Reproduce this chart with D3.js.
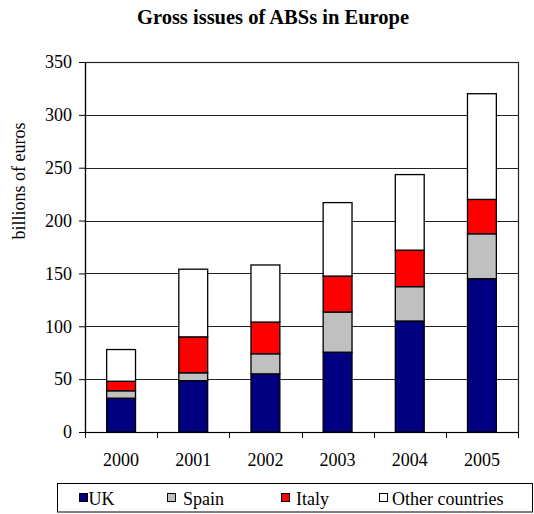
<!DOCTYPE html>
<html>
<head>
<meta charset="utf-8">
<script src="https://cdn.jsdelivr.net/npm/d3@7"></script>
<style>
  html, body { margin: 0; padding: 0; background: #fff; }
  svg { display: block; }
  svg text { font-family: "Liberation Serif", "Times New Roman", "DejaVu Serif", serif; fill: #000; }
</style>
</head>
<body>
<svg id="chart" width="534" height="514"></svg>
<script>
// Gross issues of asset-backed securities in Europe, billions of euros
const years = ["2000", "2001", "2002", "2003", "2004", "2005"];
const seriesNames = ["UK", "Spain", "Italy", "Other countries"];
const uk     = [32, 48.5, 55, 75.5, 105, 145];
const spain  = [7, 7.5, 19, 38, 32.5, 42.5];
const italy  = [9, 34, 30, 34, 34.5, 32.5];
const others = [30, 64, 54, 69.5, 71.5, 100];
const yTicks = [0, 50, 100, 150, 200, 250, 300, 350];
const colors = ["#000080", "#c0c0c0", "#ff0000", "#ffffff"];

const rows = years.map((y, i) => ({
  year: y, "UK": uk[i], "Spain": spain[i], "Italy": italy[i], "Other countries": others[i]
}));
const stacked = d3.stack().keys(seriesNames)(rows);

const svg = d3.select("#chart");
const m = { left: 85, right: 16, top: 62, bottom: 82 };
const W = 534, H = 514;
const pw = W - m.left - m.right, ph = H - m.top - m.bottom;

const x = d3.scaleBand().domain(years).range([0, pw]).paddingInner(0.6).paddingOuter(0.3);
const xb = d3.scaleBand().domain(years).range([0, pw]);
const y = d3.scaleLinear().domain([0, 350]).range([ph, 0]);

svg.append("text")
  .attr("x", 273).attr("y", 24)
  .attr("text-anchor", "middle")
  .attr("font-weight", "bold").attr("font-size", 20.5)
  .text("Gross issues of ABSs in Europe");

const g = svg.append("g").attr("transform", `translate(${m.left},${m.top})`);

// horizontal gridlines
g.append("g").selectAll("line").data(yTicks.filter(t => t > 0 && t < 350)).join("line")
  .attr("x1", 0).attr("x2", pw)
  .attr("y1", d => Math.round(y(d)) + 0.5).attr("y2", d => Math.round(y(d)) + 0.5)
  .attr("stroke", "#222").attr("stroke-width", 1);

// plot frame
g.append("rect")
  .attr("x", 0.5).attr("y", 0.5).attr("width", pw).attr("height", ph)
  .attr("fill", "none").attr("stroke", "#222").attr("stroke-width", 1.2);

// stacked bars
g.append("g").selectAll("g").data(stacked).join("g")
  .attr("fill", (d, i) => colors[i])
  .selectAll("rect").data(d => d).join("rect")
  .attr("x", d => x(d.data.year))
  .attr("width", x.bandwidth())
  .attr("y", d => y(d[1]))
  .attr("height", d => y(d[0]) - y(d[1]))
  .attr("stroke", "#000").attr("stroke-width", 1.3);

// y axis
const yAxis = g.append("g")
  .call(d3.axisLeft(y).tickValues(yTicks).tickSize(6).tickPadding(7));
yAxis.attr("font-family", null).attr("font-size", null);
yAxis.select(".domain").attr("stroke", "#000").attr("stroke-width", 1.2);
yAxis.selectAll(".tick line").attr("stroke", "#000");
yAxis.selectAll(".tick text").attr("font-size", 18).attr("fill", "#000");

// x axis: ticks at category boundaries, labels centred under bars
const xAxisG = g.append("g").attr("transform", `translate(0,${ph})`);
xAxisG.append("line").attr("x1", 0).attr("x2", pw).attr("y1", 0.5).attr("y2", 0.5)
  .attr("stroke", "#000").attr("stroke-width", 1.2);
xAxisG.selectAll("line.tk").data(years).join("line")
  .attr("class", "tk")
  .attr("x1", d => Math.round(xb(d) + xb.bandwidth()) + 0.5)
  .attr("x2", d => Math.round(xb(d) + xb.bandwidth()) + 0.5)
  .attr("y1", 0).attr("y2", 6)
  .attr("stroke", "#000");
xAxisG.append("line").attr("x1", 0.5).attr("x2", 0.5).attr("y1", 0).attr("y2", 6).attr("stroke", "#000");
xAxisG.selectAll("text").data(years).join("text")
  .attr("x", d => x(d) + x.bandwidth() / 2)
  .attr("y", 34)
  .attr("text-anchor", "middle").attr("font-size", 18)
  .text(d => d);

// y axis title
svg.append("text")
  .attr("transform", "translate(25,181) rotate(-90)")
  .attr("text-anchor", "middle").attr("font-size", 18)
  .text("billions of euros");

// legend
const lg = svg.append("g");
lg.append("rect").attr("x", 57.5).attr("y", 483.5).attr("width", 475).attr("height", 28.5)
  .attr("fill", "#fff").attr("stroke", "#000").attr("stroke-width", 1);
const swatchX = [79, 167, 281, 379];
const labelX = [88.5, 183, 296, 392];
seriesNames.forEach((name, i) => {
  lg.append("rect")
    .attr("x", swatchX[i] + 0.5).attr("y", 493.5).attr("width", 8).attr("height", 8)
    .attr("fill", colors[i]).attr("stroke", "#000").attr("stroke-width", 1);
  lg.append("text")
    .attr("x", labelX[i]).attr("y", 504.5)
    .attr("font-size", 18)
    .text(name);
});
</script>
</body>
</html>
